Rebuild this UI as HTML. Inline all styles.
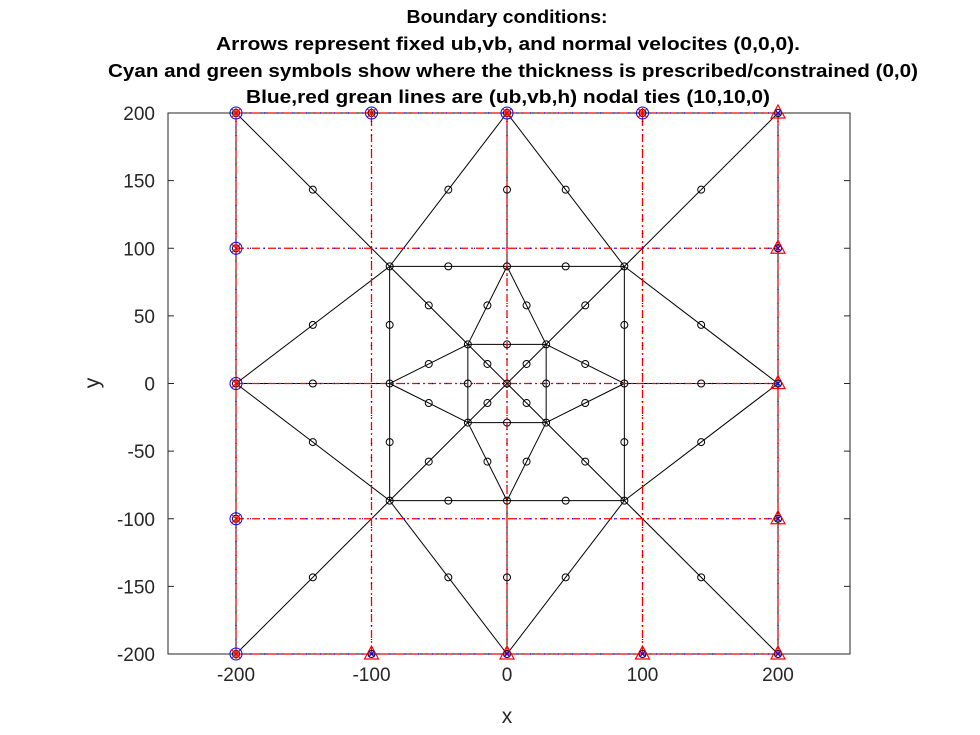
<!DOCTYPE html>
<html><head><meta charset="utf-8"><style>
body{margin:0;background:#fff;}
svg{display:block;font-family:"Liberation Sans",Arial,sans-serif;}
</style></head><body>
<svg id="chart" width="980" height="735" viewBox="0 0 980 735">
<rect width="980" height="735" fill="#fff"/>
<g font-weight="bold" font-size="18" text-anchor="middle" fill="#000">
<text x="507" y="23" textLength="201" lengthAdjust="spacingAndGlyphs">Boundary conditions:</text>
<text x="508" y="50" textLength="584" lengthAdjust="spacingAndGlyphs">Arrows represent fixed ub,vb, and normal velocites (0,0,0).</text>
<text x="513" y="77" textLength="810" lengthAdjust="spacingAndGlyphs">Cyan and green symbols show where the thickness is prescribed/constrained (0,0)</text>
<text x="508" y="103" textLength="524" lengthAdjust="spacingAndGlyphs">Blue,red grean lines are (ub,vb,h) nodal ties (10,10,0)</text>
</g>
<g id="plot"></g>
</svg>
<script>
const xTicks=[-200,-100,0,100,200];
const yTicks=[-200,-150,-100,-50,0,50,100,150,200];
const a=86.6, b=28.9;
const edgeStart=[[-200,200],[0,200],[0,200],[200,200],[-200,0],[-200,0],[-200,0],[200,0],[200,0],[200,0],[-200,-200],[0,-200],[0,-200],[200,-200],[0,200],[0,-200],
[-a,a],[0,a],[-a,-a],[0,-a],[-a,a],[-a,0],[a,a],[a,0],
[-a,a],[0,a],[0,a],[a,a],[-a,0],[-a,0],[a,0],[a,0],[-a,-a],[0,-a],[0,-a],[a,-a],
[-b,b],[-b,-b],[-b,b],[b,b],
[0,0],[0,0],[0,0],[0,0]];
const edgeEnd=[[-a,a],[-a,a],[a,a],[a,a],[-a,a],[-a,-a],[-a,0],[a,a],[a,-a],[a,0],[-a,-a],[-a,-a],[a,-a],[a,-a],[0,a],[0,-a],
[0,a],[a,a],[0,-a],[a,-a],[-a,0],[-a,-a],[a,0],[a,-a],
[-b,b],[-b,b],[b,b],[b,b],[-b,b],[-b,-b],[b,b],[b,-b],[-b,-b],[-b,-b],[b,-b],[b,-b],
[b,b],[b,-b],[-b,-b],[b,-b],
[-b,b],[b,b],[-b,-b],[b,-b]];
const tieLines=[-200,-100,0,100,200];
const leftTopNodes=[[-200,200],[-100,200],[0,200],[100,200],[-200,100],[-200,0],[-200,-100],[-200,-200]];
const rightBottomNodes=[[200,200],[200,100],[200,0],[200,-100],[200,-200],[-100,-200],[0,-200],[100,-200]];

const X0=168,X1=850,Y0=113,Y1=654;
const sx=v=>507+v*1.355;
const sy=v=>Y1-(v+200)/400*(Y1-Y0);
const NS="http://www.w3.org/2000/svg";
const plot=document.getElementById('plot');
function mk(t,at,parent){const e=document.createElementNS(NS,t);for(const k in at)e.setAttribute(k,at[k]);(parent||plot).appendChild(e);return e;}

const frame=mk('rect',{x:X0,y:Y0,width:X1-X0,height:Y1-Y0,fill:'none',stroke:'#262626','stroke-width':1});



xTicks.forEach(t=>{
  const l=mk('line',{x1:sx(t),x2:sx(t),y1:Y1,y2:Y1-6,stroke:'#262626'});
  
  
  mk('line',{x1:sx(t),x2:sx(t),y1:Y0,y2:Y0+6,stroke:'#262626'});
  const tx=mk('text',{x:sx(t),y:Y1+27,'text-anchor':'middle','font-size':19,fill:'#262626'});
  tx.textContent=t;
  
  
});
yTicks.forEach(t=>{
  const l=mk('line',{x1:X0,x2:X0+6,y1:sy(t),y2:sy(t),stroke:'#262626'});
  
  
  mk('line',{x1:X1,x2:X1-6,y1:sy(t),y2:sy(t),stroke:'#262626'});
  const tx=mk('text',{x:X0-13,y:sy(t)+7,'text-anchor':'end','font-size':19,fill:'#262626'});
  tx.textContent=t;
  
  
});
const xl=mk('text',{x:507,y:723,'text-anchor':'middle','font-size':21,fill:'#262626'});
xl.textContent='x';


const yl=mk('text',{x:99,y:383,'text-anchor':'middle','font-size':21,fill:'#262626',transform:'rotate(-90 99 383)'});
yl.textContent='y';



edgeStart.forEach((s,i)=>{
  const e=edgeEnd[i];
  const l=mk('line',{x1:sx(s[0]),y1:sy(s[1]),x2:sx(e[0]),y2:sy(e[1]),stroke:'#000','stroke-width':1});
  
  
});
[[-200,-200,-200,200],[200,-200,200,200],[-200,200,200,200],[-200,-200,200,-200]].forEach(q=>{
  mk('line',{x1:sx(q[0]),y1:sy(q[1]),x2:sx(q[2]),y2:sy(q[3]),stroke:'#000'});
});
tieLines.forEach(v=>{
  [['#f00','8 3 2 3'],['#00f','1 13']].forEach(st=>{
    const l1=mk('line',{x1:sx(v),x2:sx(v),y1:sy(-200),y2:sy(200),stroke:st[0],'stroke-width':1.3,'stroke-dasharray':st[1]});
    
    
    const l2=mk('line',{x1:sx(-200),x2:sx(200),y1:sy(v),y2:sy(v),stroke:st[0],'stroke-width':1.3,'stroke-dasharray':st[1]});
    
    
  });
});
const nodes=[];
edgeStart.forEach((s,i)=>{const e=edgeEnd[i];nodes.push(s,e,[(s[0]+e[0])/2,(s[1]+e[1])/2]);});
for(let i=-200;i<=200;i+=100){nodes.push([i,200],[i,-200],[200,i],[-200,i]);}
const seen={};
nodes.forEach(n=>{
  const k=n[0].toFixed(1)+','+n[1].toFixed(1);
  if(seen[k])return;seen[k]=1;
  const c=mk('circle',{cx:sx(n[0]),cy:sy(n[1]),r:3.5,fill:'none',stroke:'#000','stroke-width':1});
  
  
});
leftTopNodes.forEach(n=>{
  const x=sx(n[0]),y=sy(n[1]);
  const c=mk('circle',{cx:x,cy:y,r:6,fill:'none',stroke:'#00f','stroke-width':1});
  
  
  mk('path',{d:`M${x-4} ${y-4}L${x+4} ${y+4}M${x-4} ${y+4}L${x+4} ${y-4}M${x} ${y-5}L${x} ${y+5}`,stroke:'#f00','stroke-width':1.2});
});
rightBottomNodes.forEach(n=>{
  const x=sx(n[0]),y=sy(n[1]);
  const t=mk('path',{d:`M${x} ${y-8}L${x+7} ${y+5}L${x-7} ${y+5}Z`,fill:'none',stroke:'#f00','stroke-width':1.2});
  
  
  mk('path',{d:`M${x-3} ${y-3}L${x+3} ${y+3}M${x-3} ${y+3}L${x+3} ${y-3}`,stroke:'#00f','stroke-width':1.2});
});
</script>
</body></html>
